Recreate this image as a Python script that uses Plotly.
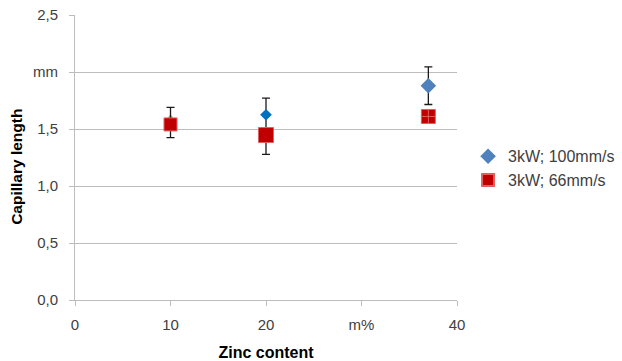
import plotly.graph_objects as go

# Zinc content (m%) and capillary length (mm)
zinc_100 = [10, 20, 37]
cap_100 = [1.55, 1.625, 1.88]
err_100_plus = [0.0, 0.145, 0.165]
err_100_minus = [0.0, 0.145, 0.165]

zinc_66 = [10, 20, 37]
cap_66 = [1.54, 1.447, 1.61]
err_66_plus = [0.15, 0.0, 0.0]
err_66_minus = [0.115, 0.17, 0.0]

zinc_ref = [10]
cap_ref = [1.585]

x_ticks = [0, 10, 20, 30, 40]
x_labels = ["0", "10", "20", "m%", "40"]
y_ticks = [0, 0.5, 1.0, 1.5, 2.0, 2.5]
y_labels = ["0,0", "0,5", "1,0", "1,5", "mm", "2,5"]

FONT = "Liberation Sans"
TXT = "#404040"
GRID = "#bdbdbd"

fig = go.Figure()

fig.add_trace(go.Scatter(
    x=zinc_ref, y=cap_ref, mode="markers", showlegend=False,
    marker=dict(symbol="triangle-up", size=10, color="#9BBB59", opacity=1),
))

fig.add_trace(go.Scatter(
    x=zinc_100, y=cap_100, mode="markers", name="3kW; 100mm/s",
    marker=dict(symbol="diamond", size=[8, 9, 12], opacity=1,
                color=["#4F81BD", "#0070C0", "#4F81BD"], line=dict(width=0)),
    error_y=dict(type="data", array=err_100_plus, arrayminus=err_100_minus,
                 color="#1a1a1a", thickness=1.3, width=4),
))

fig.add_trace(go.Scatter(
    x=zinc_66, y=cap_66, mode="markers", name="3kW; 66mm/s",
    marker=dict(symbol=["square", "square", "square-cross"], size=[13, 15, 14],
                opacity=1, color="#C00000", line=dict(width=1, color="#E06060")),
    error_y=dict(type="data", array=err_66_plus, arrayminus=err_66_minus,
                 color="#1a1a1a", thickness=1.3, width=4),
))

fig.update_layout(
    width=622, height=361,
    margin=dict(l=75, r=165, t=15, b=61, autoexpand=False),
    paper_bgcolor="white", plot_bgcolor="white",
    font=dict(family=FONT, size=15, color=TXT),
    legend=dict(x=1.029, y=0.462, xanchor="left", yanchor="middle",
                font=dict(family=FONT, size=16, color=TXT),
                bgcolor="rgba(0,0,0,0)", itemsizing="constant",
                tracegroupgap=2),
    xaxis=dict(
        range=[0, 40], tickmode="array", tickvals=x_ticks, ticktext=x_labels,
        showgrid=False, zeroline=False, showline=True, linecolor=GRID, linewidth=1,
        ticks="outside", ticklen=5, tickcolor=GRID, ticklabelstandoff=6,
        tickfont=dict(family=FONT, size=15, color=TXT),
        title=dict(text="<b>Zinc content</b>", standoff=14,
                   font=dict(family=FONT, size=16, color="#000000")),
    ),
    yaxis=dict(
        range=[0, 2.5], tickmode="array", tickvals=y_ticks, ticktext=y_labels,
        showgrid=True, gridcolor=GRID, gridwidth=1, zeroline=False,
        showline=True, linecolor=GRID, linewidth=1,
        ticks="outside", ticklen=5, tickcolor=GRID, ticklabelstandoff=8,
        tickfont=dict(family=FONT, size=15, color=TXT),
    ),
    annotations=[dict(
        text="<b>Capillary length</b>", textangle=-90,
        xref="paper", yref="paper", x=-0.152, y=0.467,
        xanchor="center", yanchor="middle", showarrow=False,
        font=dict(family=FONT, size=15.5, color="#000000"),
    )],
)

fig.write_html("out.html")
